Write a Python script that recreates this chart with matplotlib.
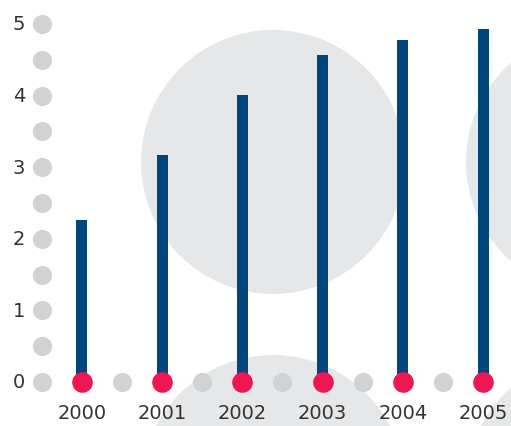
import matplotlib
matplotlib.use("Agg")
import matplotlib.pyplot as plt
from matplotlib.patches import Circle

years = ["2000", "2001", "2002", "2003", "2004", "2005"]
values = [2.26, 3.17, 4.01, 4.57, 4.78, 4.93]
y_ticks = [0, 1, 2, 3, 4, 5]

BAR = "#00457c"
RED = "#ee1753"
DOT = "#d1d2d4"
BACK = "#e6e7e8"

fig = plt.figure(figsize=(5.11, 4.27), dpi=100)
ax = fig.add_axes([0, 0, 1, 1])
ax.set_xlim(-1.022, 5.349)
ax.set_ylim(-0.615, 5.349)
ax.axis("off")

# large pale circles behind everything (placed in inches)
for cx, cy in [(2.73, 2.64), (5.98, 2.64), (2.73, -0.61), (5.98, -0.61)]:
    ax.add_patch(Circle((cx, cy), 1.32, transform=fig.dpi_scale_trans,
                        facecolor=BACK, edgecolor="none", zorder=0,
                        clip_on=False))

x = list(range(len(years)))

# dotted axes: half-steps up the y axis and between the years
half_y = [i * 0.5 for i in range(2 * max(y_ticks) + 1)]
ax.scatter([-0.5] * len(half_y), half_y, s=190, color=DOT, linewidths=0, zorder=2)
ax.scatter([i + 0.5 for i in x[:-1]], [0] * (len(x) - 1), s=190, color=DOT,
           linewidths=0, zorder=2)

ax.bar(x, values, width=0.137, color=BAR, zorder=3)
ax.scatter(x, [0] * len(x), s=220, color=RED, linewidths=0, zorder=4)

for t in y_ticks:
    ax.text(-0.71, t, str(t), ha="right", va="center", fontsize=14,
            color="#333333", zorder=5)
for i, yr in zip(x, years):
    ax.text(i, -0.42, yr, ha="center", va="center", fontsize=14,
            color="#333333", zorder=5)

fig.savefig("out.png", dpi=100)
